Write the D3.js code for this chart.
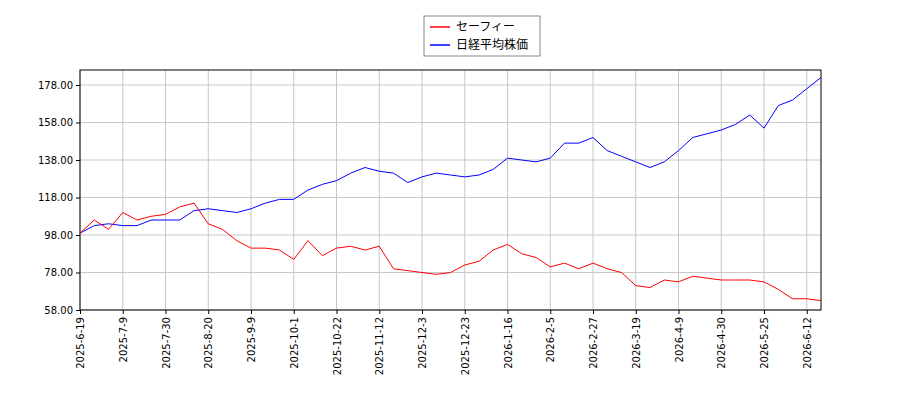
<!DOCTYPE html>
<html lang="en">
<head>
<meta charset="UTF-8">
<script src="https://d3js.org/d3.v7.min.js"></script>
<style>
  body { margin: 0; background: #fff; font-family: "DejaVu Sans", sans-serif; }
</style>
</head>
<body>
<svg id="chart" width="900" height="400"></svg>
<script>
const tickLabels = ["2025-6-19","2025-7-9","2025-7-30","2025-8-20","2025-9-9","2025-10-1","2025-10-22","2025-11-12","2025-12-3","2025-12-23","2026-1-16","2026-2-5","2026-2-27","2026-3-19","2026-4-9","2026-4-30","2026-5-25","2026-6-12"];
const yTicks = [58, 78, 98, 118, 138, 158, 178];
// weekly samples (one per 5 trading days)
const safie = [99,106,101,110,106,108,109,113,115,104,101,95,91,91,90,85,95,87,91,92,90,92,80,79,78,77,78,82,84,90,93,88,86,81,83,80,83,80,78,71,70,74,73,76,75,74,74,74,73,69,64,64,63];
const nikkei = [99,103,104,103,103,106,106,106,111,112,111,110,112,115,117,117,122,125,127,131,134,132,131,126,129,131,130,129,130,133,139,138,137,139,147,147,150,143,140,137,134,137,143,150,152,154,157,162,155,167,170,176,182];
const seriesNames = ["セーフィー", "日経平均株価"];
const seriesColors = ["#ff0000", "#0000ff"];

const svg = d3.select("#chart");
const m = { left: 80, right: 821, top: 70, bottom: 310 };

// x is trading-day index; ticks every 15 trading days, samples every 5
const x = d3.scaleLinear().domain([0, 260]).range([m.left, m.right]);
const y = d3.scaleLinear().domain([58, 186]).range([m.bottom, m.top]);
const tickIdx = tickLabels.map((_, i) => i * 15);

svg.append("g").selectAll("line").data(tickIdx).join("line")
  .attr("x1", d => x(d)).attr("x2", d => x(d)).attr("y1", m.top).attr("y2", m.bottom)
  .attr("stroke", "#c8c8c8");
svg.append("g").selectAll("line").data(yTicks).join("line")
  .attr("x1", m.left).attr("x2", m.right).attr("y1", d => y(d)).attr("y2", d => y(d))
  .attr("stroke", "#c8c8c8");

const xAxis = svg.append("g").attr("transform", `translate(0,${m.bottom})`)
  .call(d3.axisBottom(x).tickValues(tickIdx).tickSize(4).tickFormat((d, i) => tickLabels[i]));
xAxis.selectAll("text").attr("transform", "rotate(-90)").attr("text-anchor", "end")
  .attr("x", -7).attr("y", 0).attr("dy", "0.35em");
const yAxis = svg.append("g").attr("transform", `translate(${m.left},0)`)
  .call(d3.axisLeft(y).tickValues(yTicks).tickSize(4).tickFormat(d3.format(".2f")));
[xAxis, yAxis].forEach(a => {
  a.select(".domain").remove();
  a.selectAll("text").attr("font-size", 10).attr("font-family", "DejaVu Sans").attr("fill", "#000");
});
svg.append("rect").attr("x", m.left).attr("y", m.top).attr("width", m.right - m.left)
  .attr("height", m.bottom - m.top).attr("fill", "none").attr("stroke", "#000");

const line = d3.line().x((d, i) => x(i * 5)).y(d => y(d));
[nikkei, safie].forEach((s, k) => {
  svg.append("path").datum(s).attr("d", line).attr("fill", "none")
    .attr("stroke", seriesColors[1 - k]).attr("stroke-width", 1);
});

const lg = svg.append("g").attr("transform", "translate(424,16)");
lg.append("rect").attr("width", 116).attr("height", 40).attr("fill", "#fff").attr("stroke", "#888");
seriesNames.forEach((n, i) => {
  const yy = 11 + i * 18;
  lg.append("line").attr("x1", 6).attr("x2", 26).attr("y1", yy).attr("y2", yy)
    .attr("stroke", seriesColors[i]).attr("stroke-width", 1.5);
  lg.append("text").attr("x", 32).attr("y", yy).attr("dy", "0.35em")
    .attr("font-size", 12).attr("font-family", "Noto Sans CJK JP").text(n);
});
</script>
</body>
</html>
